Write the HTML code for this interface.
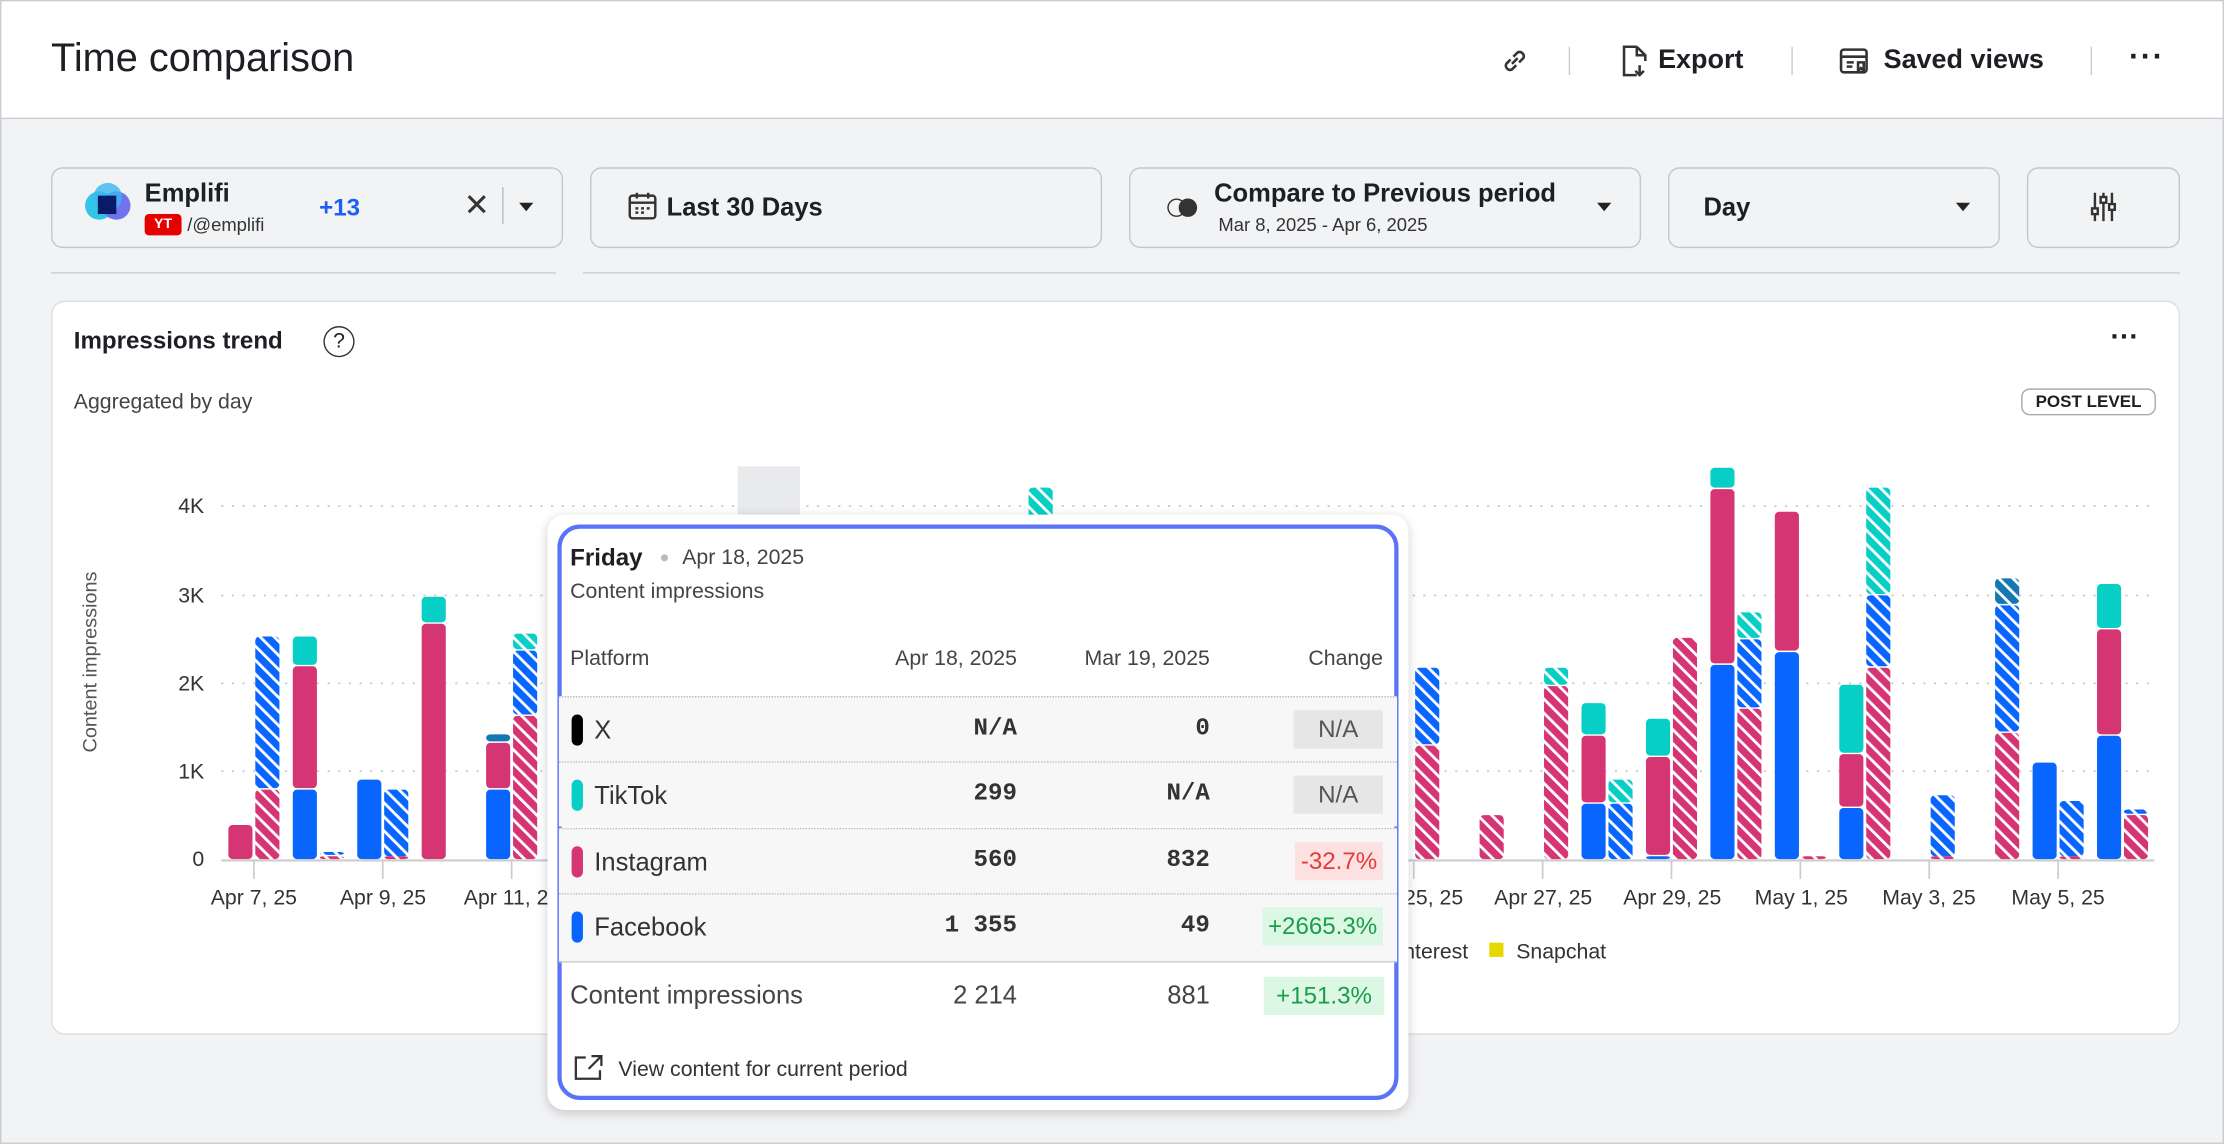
<!DOCTYPE html>
<html><head><meta charset="utf-8">
<style>
*{box-sizing:border-box;margin:0;padding:0}
html,body{width:2224px;height:1144px;overflow:hidden;background:#fff}
#w{position:absolute;left:0;top:0;width:1568px;height:807px;transform-origin:0 0;transform:scale(1.41837,1.4176);font-family:"Liberation Sans",sans-serif;color:#1d1f24;background:#f2f3f5;border:1px solid #c9ccd1}
.a{position:absolute;white-space:nowrap}
.box{position:absolute;top:117px;height:57px;border:1px solid #c4c7cc;border-radius:8px;background:#f2f3f5}
.sep{position:absolute;top:32px;width:1px;height:20px;background:#c9ccd1}
.row{position:absolute;left:393px;width:591px;height:46px;background:#f7f7f7;border-top:1px dotted #bdbdbd}
.pill{position:absolute;left:9px;top:12px;width:8px;height:22px;border-radius:4px}
.tv{position:absolute;top:13px;font-size:17px;font-weight:bold;color:#333;font-family:"Liberation Mono",monospace}
.bd{position:absolute;top:9px;height:27px;font-size:17px;line-height:27px;padding:0 4px}
</style></head><body>
<div id="w">
<div class="a" style="left:0;top:0;width:1566px;height:83px;background:#fff;border-bottom:1px solid #c9ccd1"></div>
<div class="a" style="left:35px;top:24px;font-size:28px;color:#1d1f24">Time comparison</div>
<svg class="a" style="left:1056px;top:31px" width="22" height="22" viewBox="0 0 22 22" fill="none" stroke="#333" stroke-width="1.8"><path d="M9 13l4-4M8 10l-3 3a3 3 0 004 4l3-3M14 12l3-3a3 3 0 00-4-4l-3 3"/></svg>
<div class="sep" style="left:1105px"></div>
<svg class="a" style="left:1140px;top:30px" width="22" height="24" viewBox="0 0 22 24" fill="none" stroke="#333" stroke-width="1.8"><path d="M13 2H4v20h9M13 2l6 6v4M13 2v6h6M15 15v7M12 19l3 3 3-3"/></svg>
<div class="a" style="left:1168px;top:31px;font-size:19px;font-weight:bold">Export</div>
<div class="sep" style="left:1262px"></div>
<svg class="a" style="left:1295px;top:31px" width="22" height="22" viewBox="0 0 22 22" fill="none" stroke="#333" stroke-width="1.8"><rect x="2" y="3" width="18" height="16" rx="2"/><path d="M2 8h18M6 12h5M6 15h4M14 12v6l2-2 2 2v-6z"/></svg>
<div class="a" style="left:1327px;top:31px;font-size:19px;font-weight:bold">Saved views</div>
<div class="sep" style="left:1473px"></div>
<div class="a" style="left:1500px;top:26px;font-size:22px;font-weight:bold;letter-spacing:1px">···</div>

<div class="a" style="left:35px;top:188px;width:356px;height:4px;border-bottom:1px solid #c9ccd1"></div>
<div class="a" style="left:410px;top:188px;width:1126px;height:4px;border-bottom:1px solid #c9ccd1"></div>
<div class="box" style="left:35px;width:361px"></div>
<div class="a" style="left:59px;top:128px;width:34px;height:34px">
 <div class="a" style="left:0;top:6px;width:20px;height:20px;border-radius:50%;background:#33c5e8"></div>
 <div class="a" style="left:12px;top:6px;width:20px;height:20px;border-radius:50%;background:#6f73ee"></div>
 <div class="a" style="left:6px;top:0;width:20px;height:20px;border-radius:50%;background:#39b7f0;opacity:.8"></div>
 <div class="a" style="left:9px;top:9px;width:13px;height:13px;background:#0a1a6b"></div>
</div>
<div class="a" style="left:101px;top:125px;font-size:18px;font-weight:bold">Emplifi</div>
<div class="a" style="left:101px;top:150px;width:26px;height:15px;background:#e60000;border-radius:3px;color:#fff;font-size:10px;font-weight:bold;text-align:center;line-height:15px">YT</div>
<div class="a" style="left:131px;top:150px;font-size:13px;color:#333">/@emplifi</div>
<div class="a" style="left:224px;top:136px;font-size:17px;font-weight:bold;color:#1d5ef5">+13</div>
<div class="a" style="left:326px;top:131px;font-size:22px;color:#333">✕</div>
<div class="a" style="left:353px;top:131px;width:1px;height:26px;background:#bbb"></div>
<div class="a" style="left:365px;top:142px;width:0;height:0;border-left:5px solid transparent;border-right:5px solid transparent;border-top:6px solid #222"></div>
<div class="box" style="left:415px;width:361px"></div>
<svg class="a" style="left:441px;top:133px" width="22" height="22" viewBox="0 0 22 22" fill="none" stroke="#333" stroke-width="1.7"><rect x="2" y="4" width="18" height="16" rx="2"/><path d="M2 9h18M7 2v4M15 2v4M6 13h2M10 13h2M14 13h2M6 16h2M10 16h2"/></svg>
<div class="a" style="left:469px;top:135px;font-size:18px;font-weight:bold">Last 30 Days</div>
<div class="box" style="left:795px;width:361px"></div>
<div class="a" style="left:822px;top:139px;width:13px;height:13px;border:1.8px solid #333;border-radius:50%"></div>
<div class="a" style="left:830px;top:139px;width:13px;height:13px;background:#333;border-radius:50%"></div>
<div class="a" style="left:855px;top:125px;font-size:18px;font-weight:bold">Compare to Previous period</div>
<div class="a" style="left:858px;top:150px;font-size:13px;color:#333">Mar 8, 2025 - Apr 6, 2025</div>
<div class="a" style="left:1125px;top:142px;border-left:5px solid transparent;border-right:5px solid transparent;border-top:6px solid #222"></div>
<div class="box" style="left:1175px;width:234px"></div>
<div class="a" style="left:1200px;top:135px;font-size:18px;font-weight:bold">Day</div>
<div class="a" style="left:1378px;top:142px;border-left:5px solid transparent;border-right:5px solid transparent;border-top:6px solid #222"></div>
<div class="box" style="left:1428px;width:108px"></div>
<svg class="a" style="left:1471px;top:133px" width="22" height="24" viewBox="0 0 22 24" fill="none" stroke="#333" stroke-width="1.7"><path d="M5 2v20M11 2v20M17 2v20"/><rect x="3" y="13" width="4" height="4" fill="#fff"/><rect x="9" y="5" width="4" height="4" fill="#fff"/><rect x="15" y="10" width="4" height="4" fill="#fff"/></svg>

<div class="a" style="left:35px;top:211px;width:1501px;height:518px;background:#fff;border:1px solid #dcdfe3;border-radius:10px"></div>
<div class="a" style="left:51px;top:230px;font-size:17px;font-weight:bold">Impressions trend</div>
<div class="a" style="left:227px;top:229px;width:22px;height:22px;border:1.6px solid #333;border-radius:50%;font-size:15px;text-align:center;line-height:19px">?</div>
<div class="a" style="left:1487px;top:226px;font-size:20px;font-weight:bold">···</div>
<div class="a" style="left:51px;top:274px;font-size:15px;color:#444">Aggregated by day</div>
<div class="a" style="left:1424px;top:273px;width:95px;height:19px;border:1px solid #aaa;border-radius:6px;font-size:12px;font-weight:bold;text-align:center;line-height:17px">POST LEVEL</div>
<div class="a" style="left:62px;top:466px;font-size:14px;color:#555;transform:translate(-50%,-50%) rotate(-90deg)">Content impressions</div>

<svg class="a" style="left:0;top:0" width="1568" height="807" id="ch">
<defs>
<pattern id="p0" width="7" height="7" patternUnits="userSpaceOnUse" patternTransform="rotate(-45)"><rect width="7" height="7" fill="#0866ff"/><rect width="2" height="7" fill="#fff"/></pattern>
<pattern id="p1" width="7" height="7" patternUnits="userSpaceOnUse" patternTransform="rotate(-45)"><rect width="7" height="7" fill="#d63573"/><rect width="2" height="7" fill="#fff"/></pattern>
<pattern id="p2" width="7" height="7" patternUnits="userSpaceOnUse" patternTransform="rotate(-45)"><rect width="7" height="7" fill="#08cfc6"/><rect width="2" height="7" fill="#fff"/></pattern>
<pattern id="p3" width="7" height="7" patternUnits="userSpaceOnUse" patternTransform="rotate(-45)"><rect width="7" height="7" fill="#1478b4"/><rect width="2" height="7" fill="#fff"/></pattern>
</defs>
<g font-family="Liberation Sans" font-size="15" fill="#333" text-anchor="end">
<text x="143" y="361">4K</text><text x="143" y="424">3K</text><text x="143" y="486">2K</text><text x="143" y="548">1K</text><text x="143" y="610">0</text>
</g>
<g stroke="#ccc" stroke-width="1.3" stroke-dasharray="1.5 6">
<line x1="155" x2="1518" y1="356" y2="356"/><line x1="155" x2="1518" y1="419" y2="419"/><line x1="155" x2="1518" y1="481" y2="481"/><line x1="155" x2="1518" y1="543" y2="543"/>
</g>
<rect x="519" y="328" width="44" height="40" fill="#e9eaec"/>
<g id="bars"></g>
<line x1="155" x2="1518" y1="606" y2="606" stroke="#ccc" stroke-width="1.5"/>
<g stroke="#ccc" stroke-width="1.2" id="ticks"></g>
<g font-family="Liberation Sans" font-size="15" fill="#333" text-anchor="middle">
<text x="178" y="637">Apr 7, 25</text><text x="269" y="637">Apr 9, 25</text><text x="360" y="637">Apr 11, 25</text>
<text x="996" y="637">Apr 25, 25</text><text x="1087" y="637">Apr 27, 25</text><text x="1178" y="637">Apr 29, 25</text><text x="1269" y="637">May 1, 25</text><text x="1359" y="637">May 3, 25</text><text x="1450" y="637">May 5, 25</text>
</g>
<text x="975" y="675" font-family="Liberation Sans" font-size="15" fill="#333">Pinterest</text>
<rect x="1049" y="664" width="10" height="10" fill="#e6d800"/>
<text x="1068" y="675" font-family="Liberation Sans" font-size="15" fill="#333">Snapchat</text>
</svg>

<!-- tooltip -->
<div class="a" style="left:385px;top:362px;width:607px;height:420px;background:#fff;border-radius:12px;box-shadow:0 2px 8px rgba(0,0,0,.18)"></div>
<div class="a" style="left:392px;top:369px;width:593px;height:406px;border:3px solid #5b73f7;border-radius:16px"></div>
<div class="a" style="left:401px;top:383px;font-size:17px;font-weight:bold">Friday</div>
<div class="a" style="left:465px;top:390px;width:5px;height:5px;border-radius:50%;background:#bbb"></div>
<div class="a" style="left:480px;top:384px;font-size:15px;color:#444">Apr 18, 2025</div>
<div class="a" style="left:401px;top:408px;font-size:15px;color:#444">Content impressions</div>
<div class="a" style="left:401px;top:455px;font-size:15px;color:#444">Platform</div>
<div class="a" style="left:716px;top:455px;font-size:15px;color:#444;transform:translateX(-100%)">Apr 18, 2025</div>
<div class="a" style="left:852px;top:455px;font-size:15px;color:#444;transform:translateX(-100%)">Mar 19, 2025</div>
<div class="a" style="left:974px;top:455px;font-size:15px;color:#444;transform:translateX(-100%)">Change</div>

<div class="row" style="top:490px"><div class="pill" style="background:#000"></div><div class="a" style="left:25px;top:13px;font-size:18px;color:#333">X</div>
<div class="tv" style="right:268px">N/A</div><div class="tv" style="right:132px">0</div><div class="bd" style="right:10px;width:63px;background:#e6e6e6;color:#555;text-align:center">N/A</div></div>
<div class="row" style="top:536px"><div class="pill" style="background:#08cfc6"></div><div class="a" style="left:25px;top:13px;font-size:18px;color:#333">TikTok</div>
<div class="tv" style="right:268px">299</div><div class="tv" style="right:132px">N/A</div><div class="bd" style="right:10px;width:63px;background:#e6e6e6;color:#555;text-align:center">N/A</div></div>
<div class="row" style="top:583px"><div class="pill" style="background:#d63573"></div><div class="a" style="left:25px;top:13px;font-size:18px;color:#333">Instagram</div>
<div class="tv" style="right:268px">560</div><div class="tv" style="right:132px">832</div><div class="bd" style="right:10px;background:#fde1e1;color:#e23b3b">-32.7%</div></div>
<div class="row" style="top:629px;height:48px"><div class="pill" style="background:#0866ff"></div><div class="a" style="left:25px;top:13px;font-size:18px;color:#333">Facebook</div>
<div class="tv" style="right:268px">1 355</div><div class="tv" style="right:132px">49</div><div class="bd" style="right:10px;background:#dcf7e3;color:#1a9e4a">+2665.3%</div></div>
<div class="a" style="left:393px;top:677px;width:591px;height:1px;background:#ccc"></div>
<div class="a" style="left:401px;top:691px;font-size:18px;color:#444">Content impressions</div>
<div class="a" style="left:716px;top:691px;font-size:18px;color:#444;transform:translateX(-100%)">2 214</div>
<div class="a" style="left:852px;top:691px;font-size:18px;color:#444;transform:translateX(-100%)">881</div>
<div class="a" style="left:890px;top:688px;width:85px;height:27px;background:#dcf7e3;color:#1a9e4a;font-size:17px;line-height:27px;text-align:center">+151.3%</div>
<svg class="a" style="left:403px;top:742px" width="22" height="20" viewBox="0 0 22 20" fill="none" stroke="#333" stroke-width="1.6"><path d="M9 3H2v15h17v-6M13 2h7v7M20 2l-9 9"/></svg>
<div class="a" style="left:435px;top:745px;font-size:15px;color:#333">View content for current period</div>
</div>
<script>
var C=['#0866ff','#d63573','#08cfc6','#1478b4'];
var D={0:[[[1,580]],[[1,555],[0,447]]],1:[[[0,555],[1,468],[2,447]],[[1,602],[0,599]]],2:[[[0,548]],[[1,603],[0,555]]],3:[[[1,438],[2,419]],[]],
4:[[[0,555],[1,522],[3,516]],[[1,503],[0,457],[2,445]]],12:[[],[[2,342]]],18:[[],[[1,524],[0,469]]],19:[[],[[1,573]]],20:[[],[[1,482],[2,469]]],
21:[[[0,565],[1,517],[2,494]],[[0,565],[2,548]]],22:[[[0,602],[1,532],[2,505]],[[1,448]]],23:[[[0,467],[1,343],[2,328]],[[1,498],[0,449],[2,430]]],
24:[[[0,458],[1,359]],[[1,603]]],25:[[[0,568],[1,530],[2,481]],[[1,469],[0,418],[2,342]]],26:[[],[[1,603],[0,559]]],27:[[],[[1,515],[0,425],[3,406]]],
28:[[[0,536]],[[1,603],[0,563]]],29:[[[0,517],[1,442],[2,410]],[[1,573],[0,569]]]};
var s='',t='';
for(var d=0;d<30;d++){var c=178+45.43*d;if(d%2==0)t+='<line x1="'+c+'" x2="'+c+'" y1="606" y2="619"/>';
 var e=D[d];if(!e)continue;
 [0,1].forEach(function(h){var x=h?c+1:c-18,b=605;e[h].forEach(function(g){var y=g[1],hh=b-y-1;if(hh<2)hh=2;
  s+='<rect x="'+x+'" y="'+(b-hh)+'" width="17" height="'+hh+'" rx="3" fill="'+(h?'url(#p'+g[0]+')':C[g[0]])+'"/>';b=y;});});}
document.getElementById('bars').innerHTML=s;document.getElementById('ticks').innerHTML=t;
</script>
</body></html>
